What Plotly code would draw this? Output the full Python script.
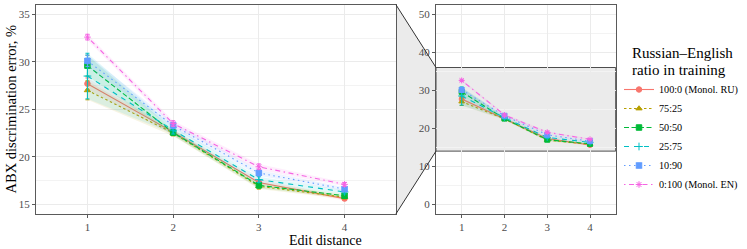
import plotly.graph_objects as go

# ---- data ----
edit_distance = [1, 2, 3, 4]
groups = ["100:0 (Monol. RU)", "75:25", "50:50", "25:75", "10:90", "0:100 (Monol. EN)"]
err_100_0 = [27.7, 22.6, 17.3, 15.6]
err_75_25 = [27.0, 22.5, 16.9, 15.75]
err_50_50 = [29.6, 22.55, 17.0, 15.9]
err_25_75 = [28.5, 22.8, 17.6, 16.3]
err_10_90 = [30.1, 23.3, 18.3, 16.6]
err_0_100 = [32.6, 23.5, 18.95, 17.1]
ci_100_0 = [0.6, 0.3, 0.3, 0.2]
ci_75_25 = [1.0, 0.3, 0.3, 0.2]
ci_50_50 = [1.1, 0.3, 0.3, 0.2]
ci_25_75 = [2.4, 0.4, 0.3, 0.2]
ci_10_90 = [0.6, 0.3, 0.3, 0.2]
ci_0_100 = [0.3, 0.3, 0.3, 0.2]
main_yticks = [15, 20, 25, 30, 35]
inset_yticks = [0, 10, 20, 30, 40, 50]
zoom_range = [14, 36]
legend_title = ["Russian–English", "ratio in training"]

series = [err_100_0, err_75_25, err_50_50, err_25_75, err_10_90, err_0_100]
cis = [ci_100_0, ci_75_25, ci_50_50, ci_25_75, ci_10_90, ci_0_100]

# ---- styles ----
colors = ["#F8766D", "#B79F00", "#00BA38", "#00BFC4", "#619CFF", "#F564E3"]
fills = ["rgba(248,118,109,0.11)", "rgba(183,159,0,0.11)", "rgba(0,186,56,0.11)",
         "rgba(0,191,196,0.11)", "rgba(97,156,255,0.11)", "rgba(245,100,227,0.11)"]
dashes = ["solid", "2.5px,2.5px", "5px,2.5px", "5px,5px", "1.5px,3.5px", "1.5px,3.5px,5px,3.5px"]
symbols = ["circle", "triangle-up", "square", "cross-thin", "square-x", "asterisk"]

FONT = "Liberation Serif"
W, H = 747, 249
x1dom = [36 / W, 396 / W]
x2dom = [436 / W, 615.7 / W]
ydom = [(H - 214) / H, (H - 5) / H]
xr = [0.4, 4.6]
y1r = [13.98, 35.98]
y2r = [-2.55, 52.45]

fig = go.Figure()

for k in range(6):
    ys, ci = series[k], cis[k]
    up = [a + b for a, b in zip(ys, ci)]
    lo = [a - b for a, b in zip(ys, ci)]
    for xa, ya in [("x", "y"), ("x2", "y2")]:
        fig.add_trace(go.Scatter(
            x=edit_distance + edit_distance[::-1], y=up + lo[::-1],
            fill="toself", fillcolor=fills[k], line=dict(width=0),
            mode="lines", hoverinfo="skip", showlegend=False, xaxis=xa, yaxis=ya))
    for xa, ya, msize, show in [("x", "y", 5.5, True), ("x2", "y2", 5, False)]:
        fig.add_trace(go.Scatter(
            x=edit_distance, y=ys, name=groups[k], mode="lines+markers",
            line=dict(color=colors[k], width=1.1, dash=dashes[k]),
            marker=dict(symbol=symbols[k], size=msize, color=colors[k],
                        line=dict(color=colors[k], width=1)),
            error_y=dict(type="data", array=ci, visible=True, color=colors[k],
                         thickness=1, width=2),
            showlegend=show, xaxis=xa, yaxis=ya))

axcommon = dict(showline=True, mirror=True, linecolor="#5A5A5A", linewidth=1,
                ticks="outside", ticklen=3, tickcolor="#5A5A5A", tickwidth=1,
                gridcolor="#EBEBEB", gridwidth=1, zeroline=False, automargin=False,
                tickfont=dict(family=FONT, size=11, color="#4D4D4D"))

fig.update_layout(
    width=W, height=H, margin=dict(l=0, r=0, t=0, b=0, autoexpand=False),
    paper_bgcolor="white", plot_bgcolor="white",
    font=dict(family=FONT, color="black"),
    xaxis=dict(domain=x1dom, range=xr, tickvals=edit_distance, anchor="y", **axcommon),
    yaxis=dict(domain=ydom, range=y1r, tickvals=main_yticks, anchor="x",
               minor=dict(dtick=2.5, tick0=0, showgrid=True, gridcolor="#F3F3F3", gridwidth=0.6),
               **axcommon),
    xaxis2=dict(domain=x2dom, range=xr, tickvals=edit_distance, anchor="y2", **axcommon),
    yaxis2=dict(domain=ydom, range=y2r, tickvals=inset_yticks, anchor="x2",
                minor=dict(dtick=5, tick0=0, showgrid=True, gridcolor="#F3F3F3", gridwidth=0.6),
                **axcommon),
    legend=dict(x=619 / W, y=1 - 75 / H, xanchor="left", yanchor="top",
                font=dict(family=FONT, size=10.2, color="black"),
                tracegroupgap=0, itemwidth=30, bgcolor="rgba(0,0,0,0)"),
)

# legend title as two text lines
for i, line in enumerate(legend_title):
    fig.add_annotation(text=line, xref="paper", yref="paper", x=630 / W,
                       y=1 - (53 + 17 * i) / H, xanchor="left", yanchor="middle",
                       showarrow=False, font=dict(family=FONT, size=15, color="black"))

# zoom rectangle in inset
fig.add_shape(type="rect", xref="x2 domain", yref="y2", x0=0, x1=1,
              y0=zoom_range[0], y1=zoom_range[1], fillcolor="#EBEBEB",
              line=dict(color="#4D4D4D", width=1), layer="below")

def y2paper(v):
    return ydom[0] + (v - y2r[0]) / (y2r[1] - y2r[0]) * (ydom[1] - ydom[0])

def y1paper(v):
    return ydom[0] + (v - y1r[0]) / (y1r[1] - y1r[0]) * (ydom[1] - ydom[0])

xl, xrp = x1dom[1], x2dom[0]
path = (f"M {xl},{y1paper(zoom_range[1])} L {xrp},{y2paper(zoom_range[1])} "
        f"L {xrp},{y2paper(zoom_range[0])} L {xl},{y1paper(zoom_range[0])} Z")
fig.add_shape(type="path", xref="paper", yref="paper", path=path,
              fillcolor="#EBEBEB", line=dict(width=0), layer="below")
fig.add_shape(type="line", xref="paper", yref="paper", x0=xl, x1=xrp,
              y0=y1paper(zoom_range[1]), y1=y2paper(zoom_range[1]),
              line=dict(color="#333333", width=1), layer="above")
fig.add_shape(type="line", xref="paper", yref="paper", x0=xl, x1=xrp,
              y0=y1paper(zoom_range[0]), y1=y2paper(zoom_range[0]),
              line=dict(color="#333333", width=1), layer="above")

fig.add_annotation(text="ABX discrimination error, %", xref="paper", yref="paper",
                   x=10 / W, y=(ydom[0] + ydom[1]) / 2, textangle=-90, showarrow=False,
                   xanchor="center", yanchor="middle",
                   font=dict(family=FONT, size=14.5, color="black"))
fig.add_annotation(text="Edit distance", xref="paper", yref="paper",
                   x=(x1dom[0] + x2dom[1]) / 2, y=1 - 240 / H, showarrow=False,
                   xanchor="center", yanchor="middle",
                   font=dict(family=FONT, size=14, color="black"))

fig.write_html("out.html", config={"displayModeBar": False},
               post_script="document.body.style.margin='0px';")
